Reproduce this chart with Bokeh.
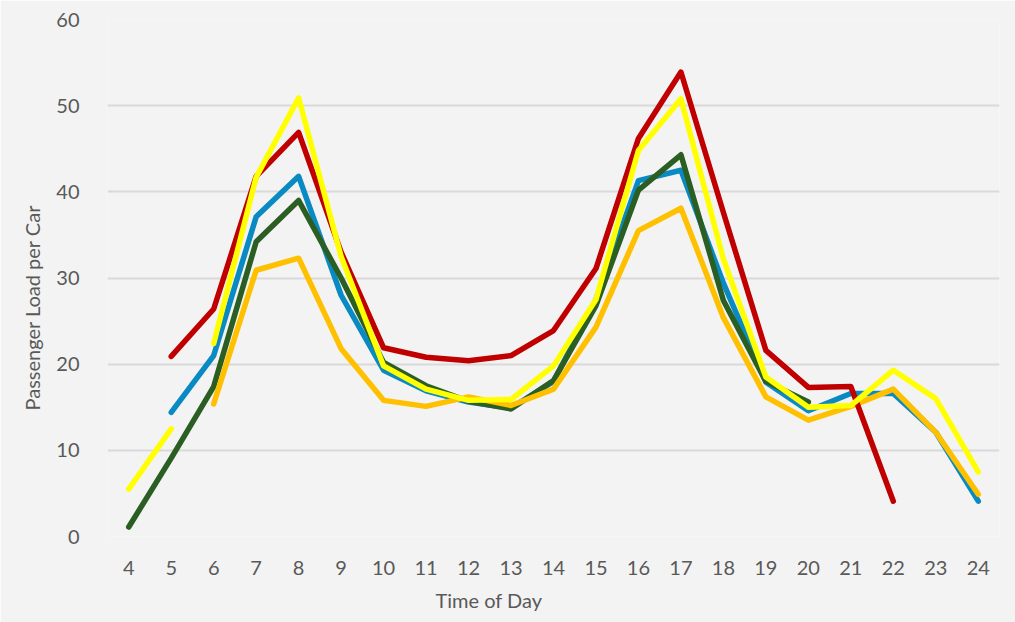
from bokeh.plotting import figure
from bokeh.models import Range1d, FixedTicker, Title
from bokeh.embed import file_html
from bokeh.resources import INLINE

nan = float("nan")

hours = list(range(4, 25))
red = [nan, 20.9, 26.4, 41.8, 46.9, 33.0, 21.9, 20.8, 20.4, 21.0, 23.9, 31.1, 46.2, 53.9, 37.6, 21.6, 17.3, 17.4, 4.1, nan, nan]
blue = [nan, 14.4, 21.0, 37.1, 41.8, 28.0, 19.3, 16.9, 15.6, 14.9, 18.0, 27.5, 41.3, 42.5, 29.4, 17.9, 14.6, 16.6, 16.6, 12.1, 4.1]
green = [1.1, 9.1, 17.4, 34.2, 39.0, 30.0, 20.2, 17.5, 15.7, 14.8, 18.1, 26.8, 40.2, 44.3, 27.4, 18.0, 15.6, nan, nan, nan, nan]
yellow_early_hours = [4, 5]
yellow_early = [5.5, 12.5]
yellow = [nan, nan, 22.4, 41.7, 50.9, 32.5, 19.8, 17.1, 15.8, 15.9, 19.8, 27.5, 44.8, 50.8, 32.2, 18.5, 15.0, 15.2, 19.3, 16.0, 7.5]
orange = [nan, nan, 15.4, 30.9, 32.3, 21.8, 15.8, 15.1, 16.2, 15.2, 17.1, 24.3, 35.5, 38.1, 25.4, 16.2, 13.5, 15.1, 17.1, 12.1, 4.9]
y_ticks = [0, 10, 20, 30, 40, 50, 60]
x_title = "Time of Day"
y_title = "Passenger Load per Car"

FONT = "Lato"
TXT = "#595959"
BG = "#f3f3f3"

p = figure(width=1015, height=622, output_backend="svg", toolbar_location=None,
           x_range=Range1d(3.5, 24.5), y_range=Range1d(0, 60),
           min_border_left=107, min_border_right=16, min_border_top=19, min_border_bottom=86)
p.background_fill_color = BG
p.border_fill_color = BG
p.outline_line_color = None

p.xaxis.ticker = FixedTicker(ticks=hours)
p.yaxis.ticker = FixedTicker(ticks=y_ticks)
for ax in (p.xaxis, p.yaxis):
    ax.axis_line_color = None
    ax.major_tick_line_color = None
    ax.minor_tick_line_color = None
    ax.major_label_text_font = FONT
    ax.major_label_text_font_size = "20px"
    ax.major_label_text_color = TXT
p.xaxis.major_label_standoff = 18
p.yaxis.major_label_standoff = 22

p.xgrid.grid_line_color = None
p.ygrid.grid_line_color = "#d9d9d9"
p.ygrid.grid_line_width = 2

lw = 5.5
def draw(xs, ys, color):
    p.line(xs, ys, line_color=color, line_width=lw, line_cap="round", line_join="round")

draw(hours, blue, "#0A8AC2")
draw(hours, green, "#2B5E22")
draw(hours, orange, "#FFC000")
draw(hours, red, "#C00000")
draw(yellow_early_hours, yellow_early, "#FFFF00")
draw(hours, yellow, "#FFFF00")

p.add_layout(Title(text=x_title, align="left", offset=328, standoff=17,
                   text_font=FONT, text_font_size="20px", text_font_style="normal",
                   text_color=TXT), "below")
p.add_layout(Title(text=y_title, align="left", offset=126, standoff=20,
                   text_font=FONT, text_font_size="20px", text_font_style="normal",
                   text_color=TXT), "left")

open("out.html", "w").write(file_html(p, INLINE))
